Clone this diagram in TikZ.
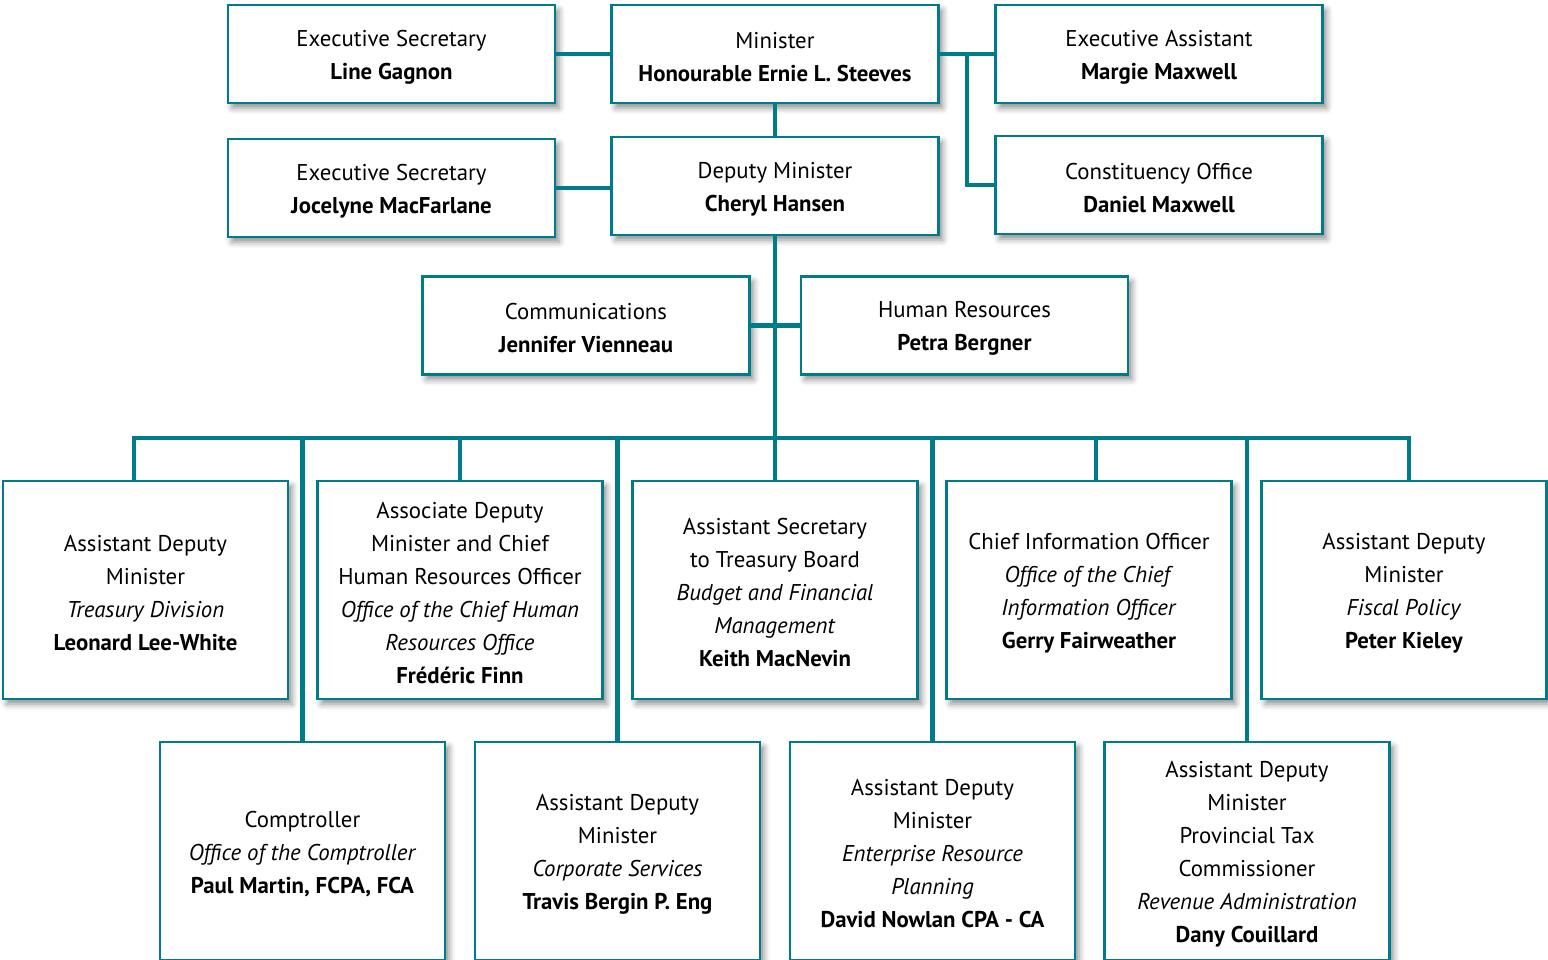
\documentclass[tikz,border=0pt]{standalone}
\usepackage{fontspec}
\setmainfont{PT Sans}
\usetikzlibrary{shadows.blur,calc}
\definecolor{teal}{HTML}{007B8A}
\newcommand{\tp}{\rule{0pt}{22pt}}
\begin{document}
\begin{tikzpicture}[x=1pt,y=-1pt,
  box/.style={draw=teal, line width=2.8pt, fill=white, rectangle, align=center,
    inner sep=0pt, font=\fontsize{22.8}{33}\selectfont,
    blur shadow={shadow xshift=4pt, shadow yshift=-5pt, shadow blur radius=6pt, shadow opacity=45}},
  topbox/.style={box, minimum width=327pt, minimum height=98pt},
  bigbox/.style={box, minimum width=285pt, minimum height=218pt},
  conn/.style={draw=teal, line width=4.6pt}]
\useasboundingbox (0,0) rectangle (1548,959);
\clip (0,0) rectangle (1548,959);
% top rows
\node[topbox] (es1) at (391.5,54) {\tp Executive Secretary\\\textbf{Line Gagnon}};
\node[topbox] (min) at (775,54) {\tp Minister\\\textbf{Honourable Ernie L. Steeves}};
\node[topbox] (ea) at (1159,54) {\tp Executive Assistant\\\textbf{Margie Maxwell}};
\node[topbox] (es2) at (391.5,188) {\tp Executive Secretary\\\textbf{Jocelyne MacFarlane}};
\node[topbox] (dep) at (775,186) {\tp Deputy Minister\\\textbf{Cheryl Hansen}};
\node[topbox] (con) at (1159,185) {\tp Constituency Office\\\textbf{Daniel Maxwell}};
\node[topbox] (com) at (586,325.5) {\tp Communications\\\textbf{Jennifer Vienneau}};
\node[topbox] (hr) at (964.5,325.5) {\tp Human Resources\\\textbf{Petra Bergner}};
% row 4
\node[bigbox] (b1) at (145.5,590) {\tp Assistant Deputy\\Minister\\\textit{Treasury Division}\\\textbf{Leonard Lee-White}};
\node[bigbox] (b2) at (460,590) {\tp Associate Deputy\\Minister and Chief\\Human Resources Officer\\\textit{Office of the Chief Human}\\\textit{Resources Office}\\\textbf{Frédéric Finn}};
\node[bigbox] (b3) at (775,590) {\tp Assistant Secretary\\to Treasury Board\\\textit{Budget and Financial}\\\textit{Management}\\\textbf{Keith MacNevin}};
\node[bigbox] (b4) at (1089,590) {\tp Chief Information Officer\\\textit{Office of the Chief}\\\textit{Information Officer}\\\textbf{Gerry Fairweather}};
\node[bigbox] (b5) at (1404,590) {\tp Assistant Deputy\\Minister\\\textit{Fiscal Policy}\\\textbf{Peter Kieley}};
% row 5
\node[bigbox] (c1) at (302.5,851) {\tp Comptroller\\\textit{Office of the Comptroller}\\\textbf{Paul Martin, FCPA, FCA}};
\node[bigbox] (c2) at (617.5,851) {\tp Assistant Deputy\\Minister\\\textit{Corporate Services}\\\textbf{Travis Bergin P. Eng}};
\node[bigbox] (c3) at (932.5,851) {\tp Assistant Deputy\\Minister\\\textit{Enterprise Resource}\\\textit{Planning}\\\textbf{David Nowlan CPA - CA}};
\node[bigbox] (c4) at (1247,851) {\tp Assistant Deputy\\Minister\\Provincial Tax\\Commissioner\\\textit{Revenue Administration}\\\textbf{Dany Couillard}};
% connectors
\coordinate (j1) at (967,54);
\coordinate (busL) at (134,438);
\coordinate (busR) at (1409,438);
\coordinate (b4top) at (1096,438);
\draw[conn] (es1.east) -- (min.west);
\draw[conn] (min.east) -- (ea.west);
\draw[conn] (j1) |- (con.west);
\draw[conn] (min.south) -- (dep.north);
\draw[conn] (es2.east) -- (es2.east -| dep.west);
\draw[conn] (dep.south) -- (dep.south |- busL);
\draw[conn] (com.east) -- (hr.west);
\draw[conn] ($(busL)+(-2.3,0)$) -- ($(busR)+(2.3,0)$);
\draw[conn] (busL) -- (busL |- b1.north);
\draw[conn] (b2.north |- busL) -- (b2.north);
\draw[conn] (b3.north |- busL) -- (b3.north);
\draw[conn] (b4top) -- (b4top |- b4.north);
\draw[conn] (busR) -- (busR |- b5.north);
\draw[conn] (c1.north |- busL) -- (c1.north);
\draw[conn] (c2.north |- busL) -- (c2.north);
\draw[conn] (c3.north |- busL) -- (c3.north);
\draw[conn] (c4.north |- busL) -- (c4.north);
\end{tikzpicture}
\end{document}
